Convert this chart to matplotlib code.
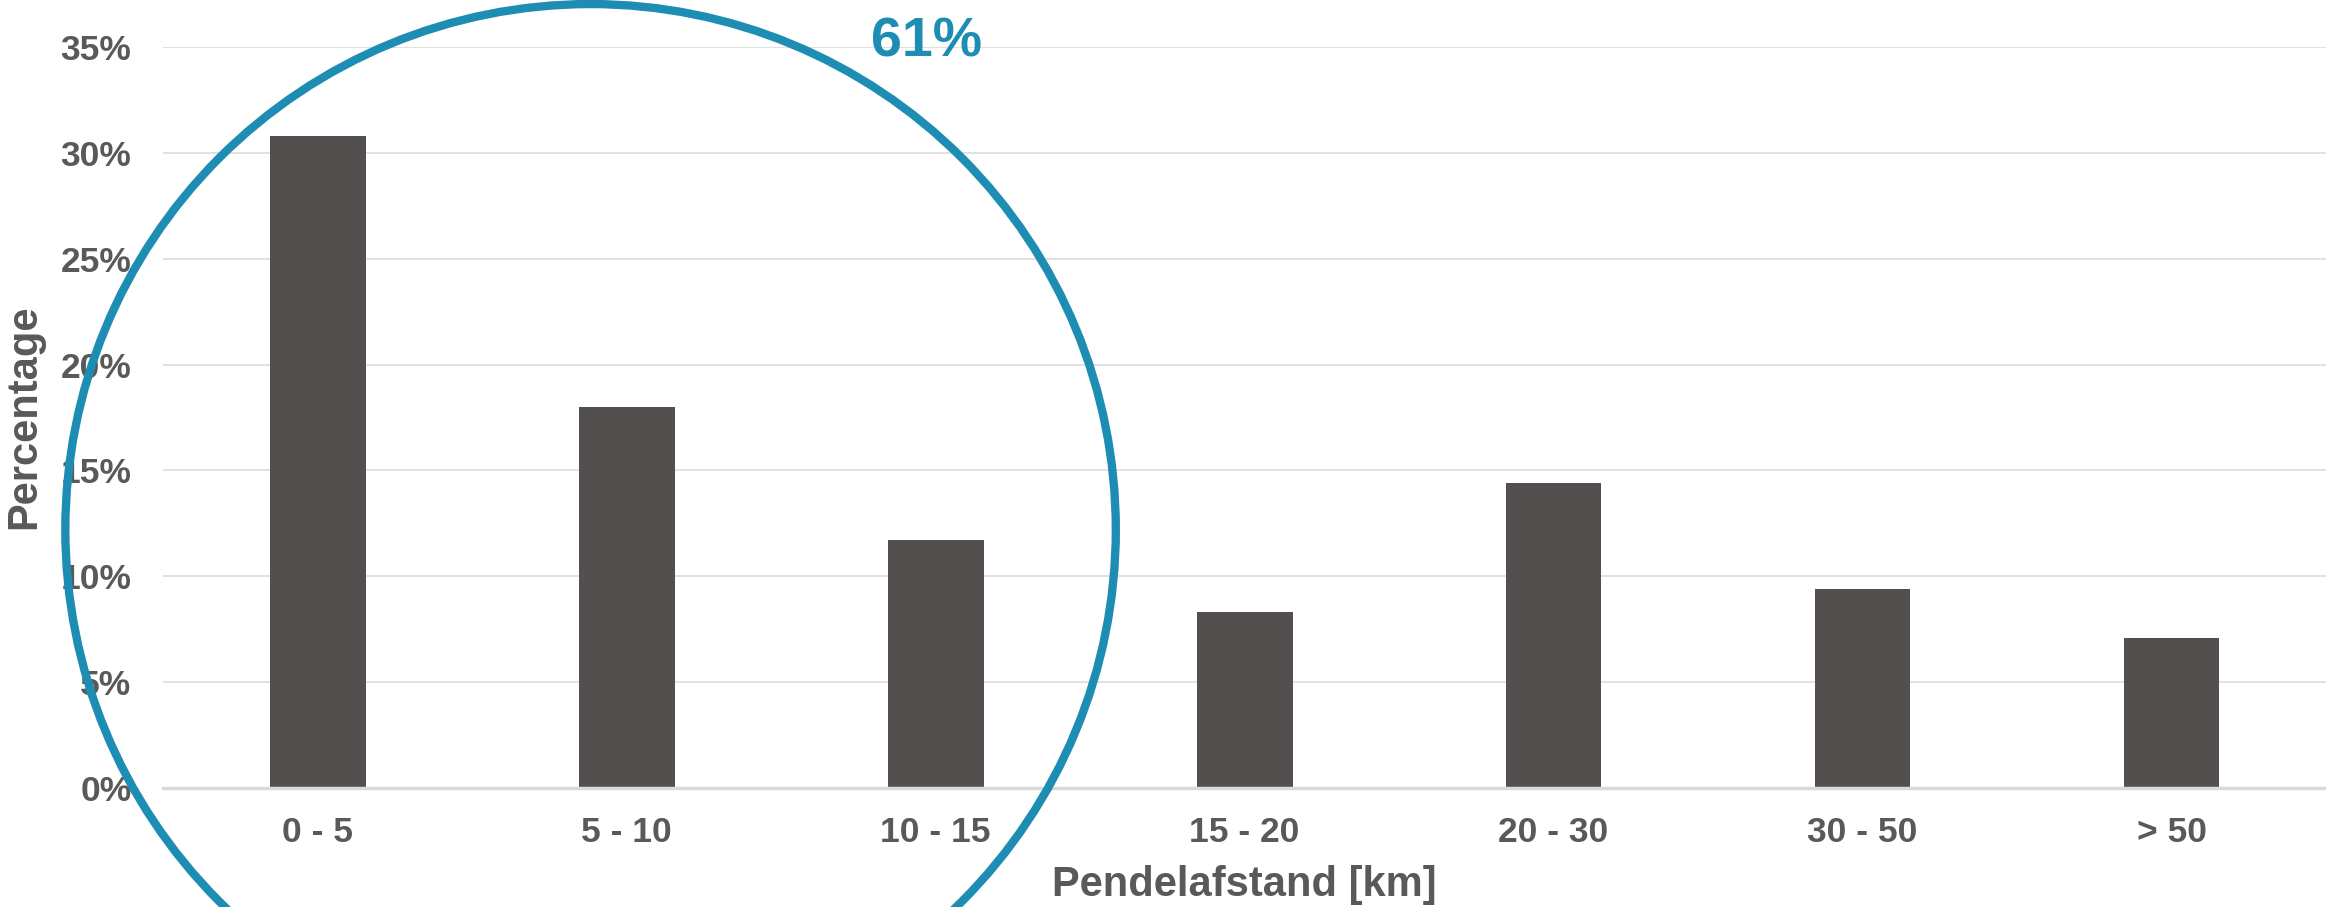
import matplotlib

matplotlib.use("Agg")
import matplotlib.pyplot as plt
from matplotlib.patches import Ellipse
from matplotlib.ticker import FuncFormatter, MultipleLocator

TEXT = "#595959"
BAR = "#534F4E"
GRID = "#D9D9D9"
ACCENT = "#1E8DB3"

# commuting distance classes and share of commuters (%)
categories = ["0 - 5", "5 - 10", "10 - 15", "15 - 20", "20 - 30", "30 - 50", "> 50"]
shares = [30.8, 18.0, 11.7, 8.3, 14.4, 9.4, 7.1]
highlight_label = "61%"

plt.rcParams["font.family"] = ["Liberation Sans", "DejaVu Sans"]
plt.rcParams["font.weight"] = "bold"

fig = plt.figure(figsize=(23.26, 9.07), dpi=100)
ax = fig.add_axes([0.0702, 0.1315, 0.9298, 0.8162])

x = range(len(categories))
ax.bar(x, shares, width=0.31, color=BAR, zorder=2)

ax.set_xlim(-0.5, len(categories) - 0.5)
ax.set_ylim(0, 35)
ax.yaxis.set_major_locator(MultipleLocator(5))
ax.yaxis.set_major_formatter(FuncFormatter(lambda v, _: f"{v:.0f}%"))
ax.set_xticks(list(x))
ax.set_xticklabels(categories)

ax.grid(axis="y", color=GRID, linewidth=1.1, zorder=0)
for side in ("top", "right", "left"):
    ax.spines[side].set_visible(False)
ax.spines["bottom"].set_color(GRID)
ax.spines["bottom"].set_linewidth(2.5)
ax.tick_params(axis="both", length=0, labelsize=25.5, labelcolor=TEXT)
ax.tick_params(axis="y", pad=23)
ax.tick_params(axis="x", pad=20)

ax.set_xlabel("Pendelafstand [km]", fontsize=30, color=TEXT, fontweight="bold", va="center")
ax.xaxis.set_label_coords(0.5, -0.132)
ax.set_ylabel("Percentage", fontsize=30, color=TEXT, fontweight="bold", va="center")
ax.yaxis.set_label_coords(-0.0645, 0.501)

# circle grouping the first three classes
ax.add_patch(Ellipse((0.883, 12.2), 3.40, 49.7, fill=False, edgecolor=ACCENT,
                     linewidth=6, clip_on=False, zorder=5))
ax.text(1.97, 35.25, highlight_label, ha="center", va="center", fontsize=40,
        color=ACCENT, fontweight="bold", zorder=6)

fig.savefig("out.png", dpi=100, facecolor="white")
